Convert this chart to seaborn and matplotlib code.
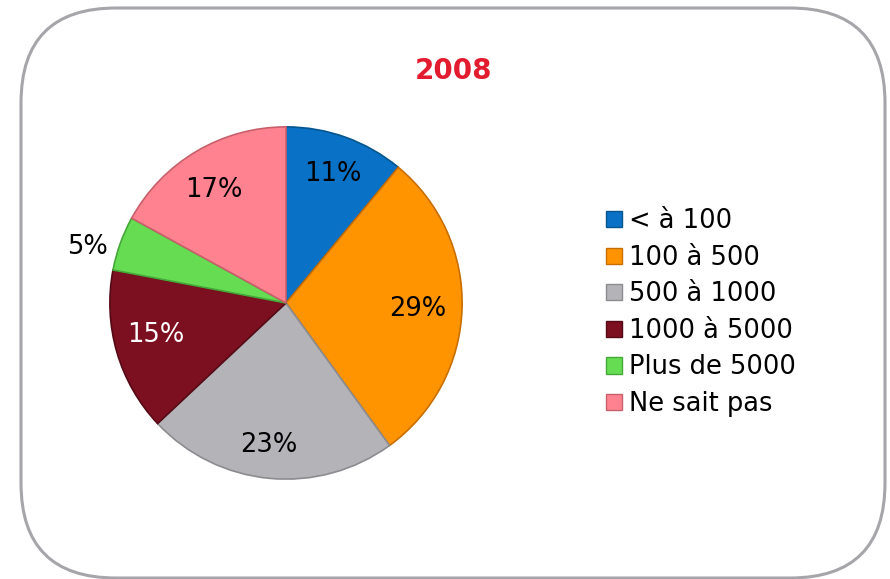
import matplotlib
matplotlib.use("Agg")
import numpy as np
import matplotlib.pyplot as plt
import seaborn as sns
from matplotlib.patches import FancyBboxPatch, Rectangle

categories = ["< à 100", "100 à 500", "500 à 1000", "1000 à 5000", "Plus de 5000", "Ne sait pas"]
values = [11, 29, 23, 15, 5, 17]
colors = ["#0A72C6", "#FF9400", "#B4B4B8", "#7C1020", "#66DC52", "#FF8290"]
edge_colors = ["#05558F", "#C86E00", "#8C8C90", "#560A16", "#45A838", "#C8606C"]
label_colors = ["black", "black", "black", "white", "black", "black"]
label_dist = [0.78, 0.75, 0.81, 0.76, 1.17, 0.76]
label_turn = [0.0, -1.0, -1.5, -2.5, 4.0, 2.0]
title = "2008"

sns.set_theme(style="white")
plt.rcParams['font.family'] = ['DejaVu Sans']
plt.rcParams['text.color'] = 'black'

W, H = 890, 579
fig = plt.figure(figsize=(W / 100, H / 100), dpi=100)

# background frame
bg = fig.add_axes([0, 0, 1, 1])
bg.set_xlim(0, W)
bg.set_ylim(H, 0)
bg.axis("off")
box = FancyBboxPatch((21 + 95, 8 + 95), 864 - 190, 570 - 190,
                     boxstyle="round,pad=95", linewidth=2.2,
                     edgecolor="#A6A6AA", facecolor="white")
bg.add_patch(box)

cx, cy, r = 286, 303, 177
ax = fig.add_axes([(cx - r) / W, (H - cy - r) / H, 2 * r / W, 2 * r / H])
wedges, texts, autotexts = ax.pie(
    values, colors=colors, startangle=90, counterclock=False,
    autopct=lambda p: f"{p:.0f}%", pctdistance=1.0,
    wedgeprops=dict(linewidth=1.2),
    textprops=dict(fontsize=18.5))
for w, t, ec, c, d, turn in zip(wedges, autotexts, edge_colors,
                                label_colors, label_dist, label_turn):
    w.set_edgecolor(ec)
    t.set_color(c)
    t.set_clip_on(False)
    ang = np.deg2rad((w.theta1 + w.theta2) / 2 + turn)
    t.set_position((d * np.cos(ang), d * np.sin(ang)))
ax.set_xlim(-1.005, 1.005)
ax.set_ylim(-1.005, 1.005)
ax.set_aspect("equal")

fig.text(453 / W, 1 - 71 / H, title, color="#E31B2F", fontsize=20,
         fontweight="bold", ha="center", va="center")

handles = [Rectangle((0, 0), 1, 1, facecolor=c, edgecolor=e, linewidth=1)
           for c, e in zip(colors, edge_colors)]
leg = fig.legend(handles, categories, loc="upper left",
                 bbox_to_anchor=(596 / W, 1 - 198 / H), frameon=False,
                 fontsize=18.5, handlelength=0.6, handleheight=0.6,
                 handletextpad=0.3, labelspacing=0.41, borderaxespad=0,
                 labelcolor="black")

fig.savefig("out.png", dpi=100)
